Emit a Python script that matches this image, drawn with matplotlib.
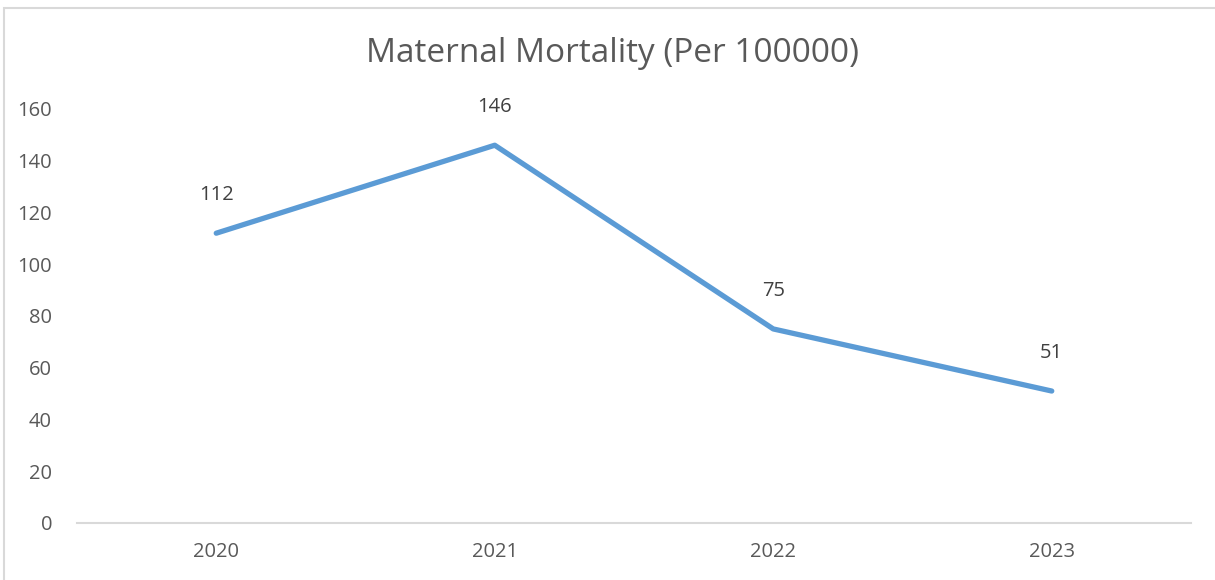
import matplotlib
matplotlib.use("Agg")
import matplotlib.pyplot as plt
from matplotlib.patches import Rectangle

years = ["2020", "2021", "2022", "2023"]
mortality = [112, 146, 75, 51]
y_ticks = [0, 20, 40, 60, 80, 100, 120, 140, 160]

plt.rcParams["font.family"] = ["Open Sans", "DejaVu Sans"]

W, H = 1215, 580
fig = plt.figure(figsize=(W / 100, H / 100), dpi=100)
ax = fig.add_axes([77 / W, 1 - 523 / H, (1191 - 77) / W, (523 - 109) / H])

x = list(range(len(years)))
ax.plot(x, mortality, color="#5B9BD5", lw=3.8, solid_capstyle="round",
        solid_joinstyle="round")
for xi, v in zip(x, mortality):
    ax.annotate(str(v), (xi, v), xytext=(0, 20), textcoords="offset points",
                ha="center", va="bottom", fontsize=14.5, color="#404040")

ax.set_xlim(-0.5, len(years) - 0.5)
ax.set_ylim(0, 160)
ax.set_xticks(x)
ax.set_xticklabels(years)
ax.set_yticks(y_ticks)
ax.tick_params(length=0, labelsize=14.5, labelcolor="#595959")
ax.tick_params(axis="y", pad=18)
ax.tick_params(axis="x", pad=14)
for s in ("top", "right", "left"):
    ax.spines[s].set_visible(False)
ax.spines["bottom"].set_color("#D9D9D9")
ax.spines["bottom"].set_linewidth(1.5)

fig.text(613 / W, 1 - 54 / H, "Maternal Mortality (Per 100000)", ha="center",
         va="center", fontsize=24, color="#595959")

# chart frame (only top/left visible in crop)
fig.add_artist(Rectangle((4 / W, -0.1), 1.2, 1 - 8 / H + 0.1,
                         transform=fig.transFigure, fill=False,
                         edgecolor="#D9D9D9", lw=1.5))

fig.savefig("out.png", dpi=100)
